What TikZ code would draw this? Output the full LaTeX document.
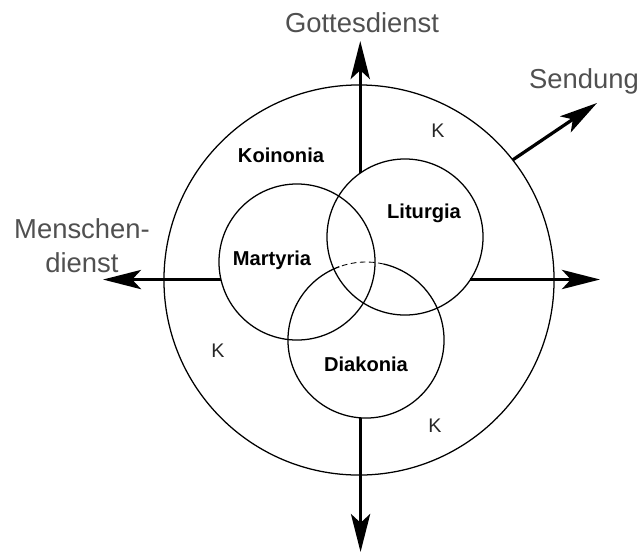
\documentclass[tikz,border=0pt]{standalone}
\usepackage{fontspec}
\setmainfont{Liberation Sans}
\usepackage{tikz}
\usetikzlibrary{arrows.meta}
\definecolor{grauschrift}{HTML}{505050}

\begin{document}
\begin{tikzpicture}[
    x=0.025cm, y=-0.025cm,
    kreis/.style={circle, draw, line width=0.9pt, inner sep=0pt, outer sep=0pt},
    pfeil/.style={line width=2.3pt, -{Stealth[length=0.95cm, width=0.48cm, inset=0.22cm]}},
    aussen/.style={font=\fontsize{19.5}{23}\selectfont, text=grauschrift, inner sep=0pt, anchor=base},
    feld/.style={font=\fontsize{14.3}{17}\selectfont\bfseries, inner sep=0pt, anchor=base},
    kbuchstabe/.style={font=\fontsize{14}{17}\selectfont, text=black!85, inner sep=0pt, anchor=base}
  ]
  \useasboundingbox (0,0) rectangle (642,553);
  \node[kreis, minimum size=9.75cm] (kirche) at (359,280) {};
  \node[kreis, minimum size=3.9cm] (martyria) at (297,262) {};
  \node[kreis, minimum size=3.9cm] (liturgia) at (405,237) {};
  \node[kreis, minimum size=3.9cm, draw=none] (diakonia) at (366,340) {};
  \draw[line width=0.9pt] (diakonia.110) arc[start angle=110, end angle=437, radius=1.95cm];
  \draw[line width=0.6pt, dash pattern=on 4pt off 2.5pt] (diakonia.77) arc[start angle=77, end angle=110, radius=1.95cm];

  \coordinate (oben) at (360,41);
  \coordinate (unten) at (360,552);
  \coordinate (links) at (103,280);
  \coordinate (rechts) at (600,280);
  \coordinate (schraeg) at (597,103);

  \draw[pfeil] (liturgia.125) -- (liturgia.125 |- oben);
  \draw[pfeil] (diakonia.266) -- (diakonia.266 |- unten);
  \draw[pfeil] (martyria.193) -- (martyria.193 -| links);
  \draw[pfeil] (liturgia.-33.5) -- (liturgia.-33.5 -| rechts);
  \draw[pfeil] (kirche.38) -- (schraeg);

  \node[aussen] (gottesdienst) at (362,32) {Gottesdienst};
  \node[aussen] (sendung) at (584,88) {Sendung};
  \node[aussen] (menschen) at (82,238) {Menschen-};
  \node[aussen] (dienst) at (82,272) {dienst};

  \node[feld] (koinonia) at (281,162) {Koinonia};
  \node[feld] (martyrialabel) at (272,265) {Martyria};
  \node[feld] (liturgialabel) at (424,218) {Liturgia};
  \node[feld] (diakonialabel) at (366,371) {Diakonia};

  \node[kbuchstabe] (koben) at (438,137) {K};
  \node[kbuchstabe] (klinks) at (218,357) {K};
  \node[kbuchstabe] (kunten) at (435,432) {K};
\end{tikzpicture}
\end{document}
